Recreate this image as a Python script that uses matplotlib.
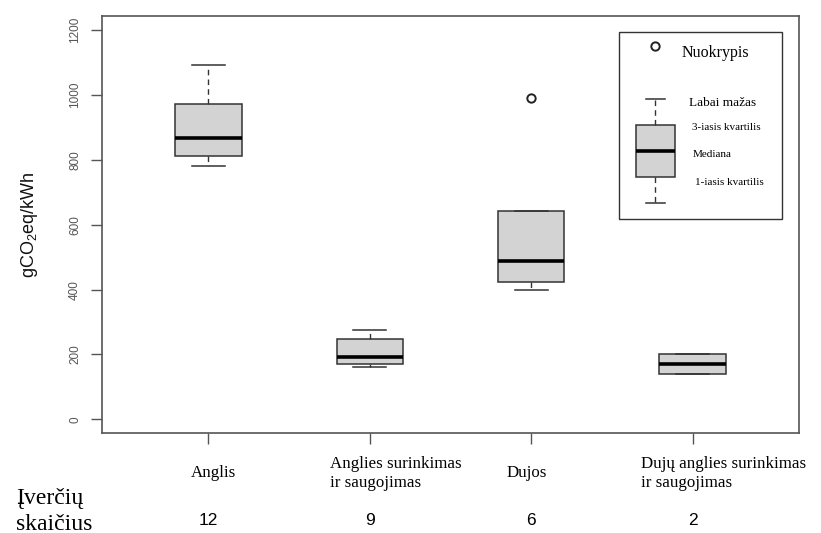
import matplotlib
matplotlib.use('Agg')
import matplotlib.pyplot as plt
from matplotlib.patches import Rectangle

plt.rcParams['mathtext.default'] = 'regular'

# emission estimates per technology (gCO2eq/kWh)
categories = ['Anglis', 'Anglies surinkimas\nir saugojimas', 'Dujos',
              'Dujų anglies surinkimas\nir saugojimas']
counts = [12, 9, 6, 2]
whislo = [781, 160, 400, 139]
q1 = [813, 170, 424, 139]
med = [868, 192, 488, 172]
q3 = [973, 248, 641, 202]
whishi = [1091, 276, 641, 202]
fliers = [[], [], [989], []]

# schematic box used as the key
key_stats = dict(whislo=667, q1=746, med=827, q3=906, whishi=988, fliers=[])
key_outlier = 1149
key_labels = ['Labai mažas', '3-iasis kvartilis', 'Mediana', '1-iasis kvartilis']

serif = 'Liberation Serif'
sans = 'Liberation Sans'
edge = '#333333'

fig = plt.figure(figsize=(8.21, 5.33), dpi=100, facecolor='white')
ax = fig.add_axes([0.1242, 0.187, 0.849, 0.783])

stats = []
for i in range(len(categories)):
    stats.append(dict(whislo=whislo[i], q1=q1[i], med=med[i], q3=q3[i],
                      whishi=whishi[i], fliers=fliers[i]))

positions = list(range(1, len(categories) + 1))
box_kw = dict(patch_artist=True,
              boxprops=dict(facecolor='#d3d3d3', edgecolor=edge, linewidth=1.1),
              medianprops=dict(color='black', linewidth=2.6, solid_capstyle='butt'),
              whiskerprops=dict(color=edge, linewidth=1.0, linestyle=(0, (4, 3))),
              capprops=dict(color=edge, linewidth=1.1),
              flierprops=dict(marker='o', markersize=6, markerfacecolor='none',
                              markeredgecolor='#222222', markeredgewidth=1.4))
ax.bxp(stats, positions=positions, widths=0.41, **box_kw)

# key inside the plot
ax.bxp([key_stats], positions=[3.77], widths=0.24, **box_kw)
ax.plot([3.77], [key_outlier], marker='o', markersize=6, markerfacecolor='none',
        markeredgecolor='#222222', markeredgewidth=1.4, linestyle='none')
ax.add_patch(Rectangle((0.742, 0.513), 0.234, 0.449, transform=ax.transAxes,
                       fill=False, edgecolor=edge, linewidth=1.0))
ax.text(0.832, 0.911, 'Nuokrypis', transform=ax.transAxes, family=serif,
        fontsize=11.5, va='center', ha='left')
key_pos = [(0.842, 0.791, 9.5), (0.846, 0.734, 8), (0.848, 0.667, 8), (0.851, 0.600, 8)]
for lab, (kx, ky, fs) in zip(key_labels, key_pos):
    ax.text(kx, ky, lab, transform=ax.transAxes, family=serif, fontsize=fs,
            va='center', ha='left')

ax.set_xlim(0.34, 4.66)
ax.set_ylim(-43, 1243)
ax.set_yticks([0, 200, 400, 600, 800, 1000, 1200])
ax.set_xticks(positions)
ax.set_xticklabels([])
ax.tick_params(axis='y', length=8, width=1.0, color='#555555', labelsize=8.5,
               labelcolor='#555555', labelrotation=90, pad=7)
ax.tick_params(axis='x', length=8, width=1.0, color='#555555')
for lab in ax.get_yticklabels():
    lab.set_family(sans)
    lab.set_va('center')
for sp in ax.spines.values():
    sp.set_color('#555555')
    sp.set_linewidth(1.2)
ax.set_ylabel('gCO$_2$eq/kWh', family=sans, fontsize=13, color='#111111', labelpad=21)

# category names and number of estimates below the axis
name_pos = [(0.2595, 'center'), (0.402, 'left'), (0.641, 'center'), (0.781, 'left')]
for name, (fx, ha) in zip(categories, name_pos):
    fig.text(fx, 0.112, name, family=serif, fontsize=12.2, ha=ha, va='center',
             linespacing=1.3)
for pos, n in zip(positions, counts):
    x_fig = (ax.transData.transform((pos, 0))[0]) / fig.bbox.width
    fig.text(x_fig, 0.024, str(n), family=sans, fontsize=12.5,
             ha='center', va='center')
fig.text(0.020, 0.041, 'Įverčių\nskaičius', family=serif, fontsize=17,
         ha='left', va='center', linespacing=1.3)

fig.savefig('out.png', dpi=100, facecolor='white')
